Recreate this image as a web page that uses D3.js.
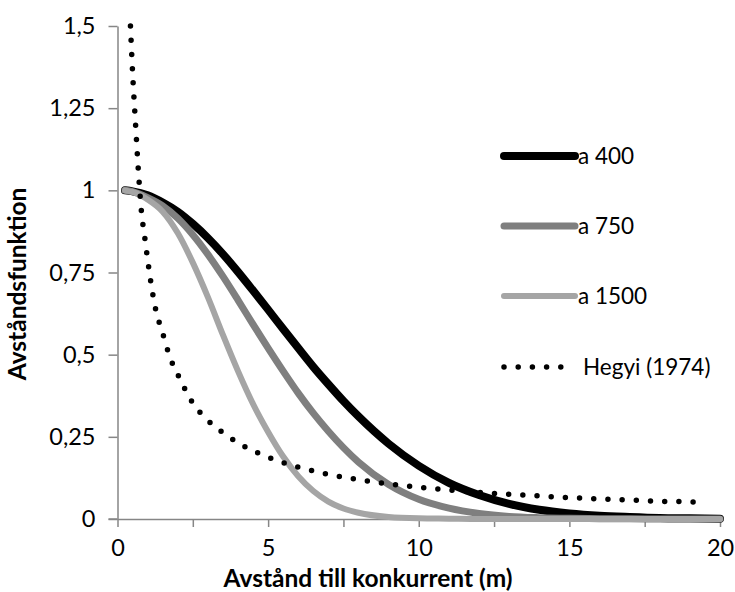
<!DOCTYPE html>
<html>
<head>
<meta charset="utf-8">
<script src="https://cdn.jsdelivr.net/npm/d3@7"></script>
<style>
  html, body { margin: 0; padding: 0; background: #fff; }
  svg { display: block; font-family: Lato, "Open Sans", sans-serif; }
</style>
</head>
<body>
<svg id="chart" width="735" height="592"></svg>
<script>
// ---- data ----
const seriesNames = ["a 400", "a 750", "a 1500", "Hegyi (1974)"];
const distA = [0.25, 0.5, 1, 1.5, 2, 2.5, 3, 3.5, 4, 4.5, 5, 5.5, 6, 6.5, 7, 7.5, 8, 9, 10, 11, 12, 13, 14, 15, 16, 17, 18, 19, 20];
const a400  = [1.0, 0.997, 0.985, 0.963, 0.935, 0.898, 0.855, 0.806, 0.752, 0.695, 0.637, 0.578, 0.52, 0.463, 0.41, 0.359, 0.312, 0.229, 0.162, 0.11, 0.073, 0.046, 0.028, 0.017, 0.01, 0.006, 0.003, 0.002, 0.001];
const a750  = [1.0, 0.996, 0.978, 0.953, 0.915, 0.865, 0.805, 0.738, 0.666, 0.592, 0.52, 0.45, 0.383, 0.322, 0.267, 0.217, 0.173, 0.105, 0.06, 0.033, 0.017, 0.008, 0.004, 0.002, 0.001, 0.0005, 0.0003, 0.0002, 0.0001];
const a1500 = [1.0, 0.995, 0.972, 0.935, 0.87, 0.78, 0.675, 0.56, 0.45, 0.35, 0.265, 0.19, 0.13, 0.085, 0.053, 0.032, 0.019, 0.006, 0.002, 0.001, 0, 0, 0, 0, 0, 0, 0, 0, 0];
const distH = [0.43, 0.5, 0.6, 0.7, 0.8, 0.9, 1.0, 1.1, 1.25, 1.5, 1.75, 2, 2.5, 3, 3.5, 4, 5, 6, 7, 8, 9, 10, 11, 12, 13, 14, 15, 16, 17, 18, 19, 19.2];
const hegyi = [1.5, 1.36, 1.2, 1.05, 0.93, 0.86, 0.79, 0.725, 0.645, 0.565, 0.49, 0.44, 0.353, 0.30, 0.263, 0.232, 0.188, 0.158, 0.136, 0.12, 0.107, 0.097, 0.088, 0.081, 0.075, 0.07, 0.065, 0.061, 0.058, 0.054, 0.052, 0.051];
const yTicks = [0, 0.25, 0.5, 0.75, 1, 1.25, 1.5];
const yTickLabels = ["0", "0,25", "0,5", "0,75", "1", "1,25", "1,5"];
const xTicks = [0, 2.5, 5, 7.5, 10, 12.5, 15, 17.5, 20];
const xTickLabels = ["0", "", "5", "", "10", "", "15", "", "20"];
const xTitle = "Avstånd till konkurrent (m)";
const yTitle = "Avståndsfunktion";

// ---- drawing ----
const svg = d3.select("#chart");
const axisColor = "#868686";
const x = d3.scaleLinear().domain([0, 20]).range([117.5, 720]);
const y = d3.scaleLinear().domain([0, 1.5]).range([519, 26]);

const styles = [
  { color: "#000000", width: 8, dash: null },
  { color: "#7f7f7f", width: 7, dash: null },
  { color: "#a5a5a5", width: 6, dash: null },
  { color: "#000000", width: 5.5, dash: "0 14.2" }
];

// y axis
const yAxis = svg.append("g").attr("transform", `translate(${x(0)},0)`)
  .call(d3.axisLeft(y).tickValues(yTicks).tickSize(9).tickSizeOuter(0).tickPadding(13)
    .tickFormat((d, i) => yTickLabels[i]));
// x axis
const xAxis = svg.append("g").attr("transform", `translate(0,${y(0)})`)
  .call(d3.axisBottom(x).tickValues(xTicks).tickSize(8).tickSizeOuter(0).tickPadding(12)
    .tickFormat((d, i) => xTickLabels[i]));
[yAxis, xAxis].forEach(g => {
  g.select(".domain").attr("stroke", axisColor).attr("stroke-width", 1.5);
  g.selectAll(".tick line").attr("stroke", axisColor).attr("stroke-width", 1.5);
  g.selectAll(".tick text").attr("fill", "#000").style("font-size", "23.5px")
    .style("font-family", "Lato, 'Open Sans', sans-serif");
});
svg.append("line").attr("x1", x(0) - 9).attr("x2", x(0)).attr("y1", y(0)).attr("y2", y(0))
  .attr("stroke", axisColor).attr("stroke-width", 1.5);

// titles
svg.append("text").attr("x", 368).attr("y", 587).attr("text-anchor", "middle")
  .style("font-size", "24.5px").style("font-weight", "bold").text(xTitle);
svg.append("text").attr("transform", "translate(26,284) rotate(-90)").attr("text-anchor", "middle")
  .style("font-size", "24.5px").style("font-weight", "bold").text(yTitle);

// lines
const line = d3.line().x(d => x(d[0])).y(d => y(d[1])).curve(d3.curveMonotoneX);
const seriesData = [
  distA.map((d, i) => [d, a400[i]]),
  distA.map((d, i) => [d, a750[i]]),
  distA.map((d, i) => [d, a1500[i]]),
  distH.map((d, i) => [d, hegyi[i]])
];
seriesData.forEach((data, i) => {
  const s = styles[i];
  svg.append("path").datum(data).attr("d", line)
    .attr("fill", "none").attr("stroke", s.color).attr("stroke-width", s.width)
    .attr("stroke-linecap", "round").attr("stroke-linejoin", "round")
    .attr("stroke-dasharray", s.dash);
});

// legend
const legendY = [156, 226, 296, 367];
seriesNames.forEach((name, i) => {
  const s = styles[i];
  const g = svg.append("g").attr("transform", `translate(0,${legendY[i]})`);
  g.append("line").attr("x1", 504).attr("x2", i === 3 ? 570 : 575).attr("y1", 0).attr("y2", 0)
    .attr("stroke", s.color).attr("stroke-width", s.width)
    .attr("stroke-linecap", "round").attr("stroke-dasharray", s.dash);
  g.append("text").attr("x", i === 3 ? 583 : 578).attr("y", 0).attr("dy", "0.35em")
    .style("font-size", "22.5px").text(name);
});
</script>
</body>
</html>
